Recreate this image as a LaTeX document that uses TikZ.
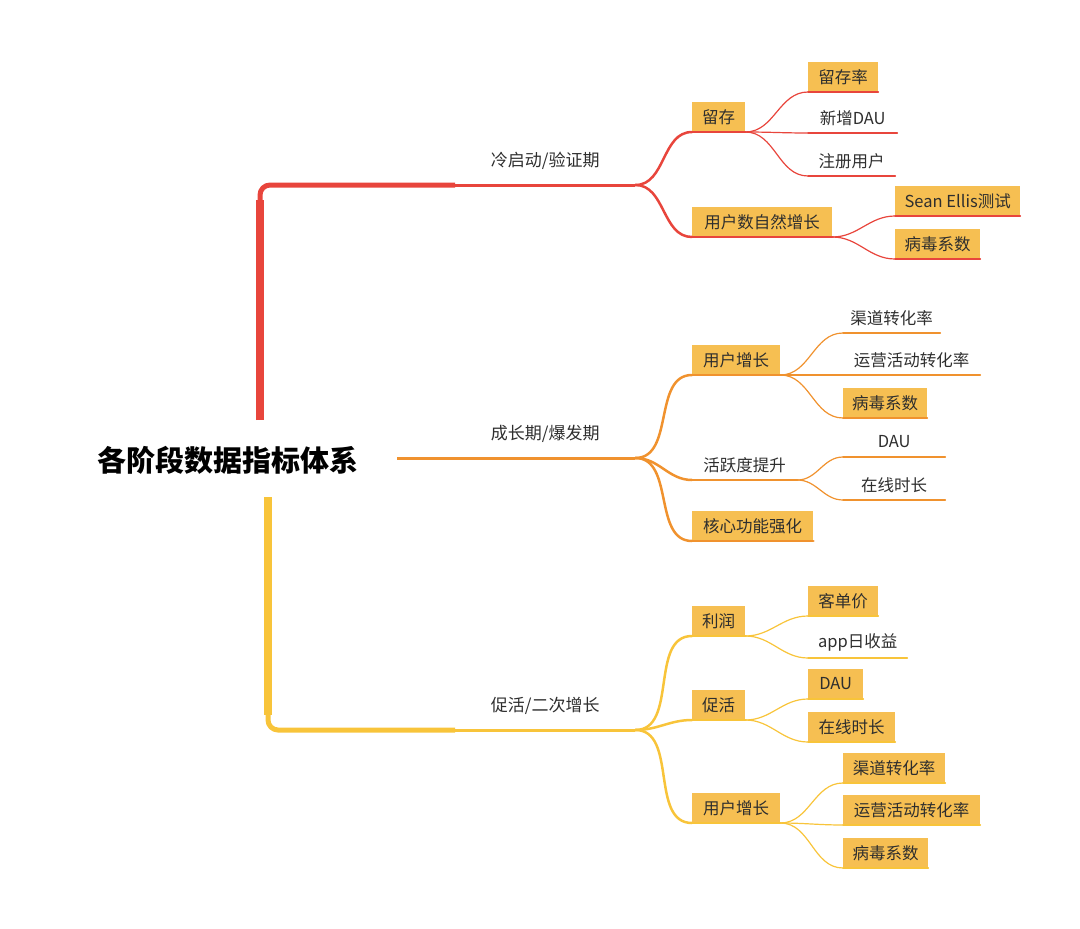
\documentclass[tikz,border=0pt]{standalone}
\usepackage{fontspec}
\setmainfont{Noto Sans CJK SC}
\definecolor{cR}{HTML}{E8453C}
\definecolor{cO}{HTML}{F0922E}
\definecolor{cY}{HTML}{F8C43A}
\definecolor{bxf}{HTML}{F6BF52}
\definecolor{tc}{HTML}{2E2E2E}
\begin{document}
\begin{tikzpicture}[x=1pt,y=-1pt,
  every node/.style={text=tc,font=\fontsize{16.5}{16.5}\selectfont,inner sep=0pt,minimum height=30pt},
  bx/.style={fill=bxf,anchor=south west},
  tx/.style={anchor=south west},
  l1/.style={anchor=south west,minimum width=180pt,minimum height=48pt,font=\fontsize{17}{17}\selectfont},
  cn/.style={line width=#1,line cap=round},
  cn/.default=1.2pt]
\useasboundingbox (0,0) rectangle (1080,929);
\node[font=\fontsize{29}{29}\bfseries\selectfont,anchor=center,text=black,minimum height=0pt] (root) at (228,460) {各阶段数据指标体系};
\coordinate (rt) at (260,420);
\coordinate (ro) at (397,458);
\coordinate (ry) at (268,497);
% level 1
\node[l1] (a) at (455,185) {冷启动/验证期};
\node[l1] (b) at (455,458) {成长期/爆发期};
\node[l1] (c) at (455,730) {促活/二次增长};
\draw[cR,line width=8pt] (rt) -- (260,200);
\draw[cR,line width=5pt,rounded corners=10pt] (260,210) |- (a.south west);
\draw[cO,line width=3pt] (ro) -- (b.south west);
\draw[cY,line width=8pt] (ry) -- (268,715);
\draw[cY,line width=5pt,rounded corners=10pt] (268,705) |- (c.south west);
\foreach \n/\c in {a/cR,b/cO,c/cY} \draw[\c,line width=3pt] (\n.south west) -- (\n.south east);
% red branch
\node[bx,minimum width=53pt] (a1) at (692,132) {留存};
\node[bx,minimum width=140pt] (a2) at (692,237) {用户数自然增长};
\node[bx,minimum width=70pt] (a11) at (808,92) {留存率};
\node[tx,minimum width=89pt] (a12) at (808,133) {新增DAU};
\node[tx,minimum width=87pt] (a13) at (808,176) {注册用户};
\node[bx,minimum width=125pt] (a21) at (895,216) {Sean Ellis测试};
\node[bx,minimum width=85pt] (a22) at (895,259) {病毒系数};
\foreach \p/\k in {a/a1,a/a2} {\draw[cR,cn=2.5pt] (\p.south east) to[out=0,in=180] (\k.south west); \draw[cR,cn=2.5pt] (\k.south west) -- (\k.south east);}
\foreach \p/\k in {a1/a11,a1/a12,a1/a13,a2/a21,a2/a22} {\draw[cR,cn] (\p.south east) to[out=0,in=180] (\k.south west); \draw[cR,cn] (\k.south west) -- (\k.south east);}
% orange branch
\node[bx,minimum width=88pt] (b1) at (692,375) {用户增长};
\node[tx,minimum width=105pt] (b2) at (692,480) {活跃度提升};
\node[bx,minimum width=121pt] (b3) at (692,541) {核心功能强化};
\node[tx,minimum width=97pt] (b11) at (843,333) {渠道转化率};
\node[tx,minimum width=137pt] (b12) at (843,375) {运营活动转化率};
\node[bx,minimum width=84pt] (b13) at (843,418) {病毒系数};
\node[tx,minimum width=102pt] (b21) at (843,457) {DAU};
\node[tx,minimum width=102pt] (b22) at (843,500) {在线时长};
\foreach \p/\k in {b/b1,b/b2,b/b3} {\draw[cO,cn=2.5pt] (\p.south east) to[out=0,in=180] (\k.south west); \draw[cO,cn=2.5pt] (\k.south west) -- (\k.south east);}
\foreach \p/\k in {b1/b11,b1/b12,b1/b13,b2/b21,b2/b22} {\draw[cO,cn] (\p.south east) to[out=0,in=180] (\k.south west); \draw[cO,cn] (\k.south west) -- (\k.south east);}
% yellow branch
\node[bx,minimum width=53pt] (c1) at (692,636) {利润};
\node[bx,minimum width=53pt] (c2) at (692,720) {促活};
\node[bx,minimum width=88pt] (c3) at (692,823) {用户增长};
\node[bx,minimum width=70pt] (c11) at (808,616) {客单价};
\node[tx,minimum width=99pt] (c12) at (808,658) {app日收益};
\node[bx,minimum width=55pt] (c21) at (808,699) {DAU};
\node[bx,minimum width=87pt] (c22) at (808,742) {在线时长};
\node[bx,minimum width=102pt] (c31) at (843,783) {渠道转化率};
\node[bx,minimum width=137pt] (c32) at (843,825) {运营活动转化率};
\node[bx,minimum width=85pt] (c33) at (843,868) {病毒系数};
\foreach \p/\k in {c/c1,c/c2,c/c3} {\draw[cY,cn=2.5pt] (\p.south east) to[out=0,in=180] (\k.south west); \draw[cY,cn=2.5pt] (\k.south west) -- (\k.south east);}
\foreach \p/\k in {c1/c11,c1/c12,c2/c21,c2/c22,c3/c31,c3/c32,c3/c33} {\draw[cY,cn] (\p.south east) to[out=0,in=180] (\k.south west); \draw[cY,cn] (\k.south west) -- (\k.south east);}
\end{tikzpicture}
\end{document}
